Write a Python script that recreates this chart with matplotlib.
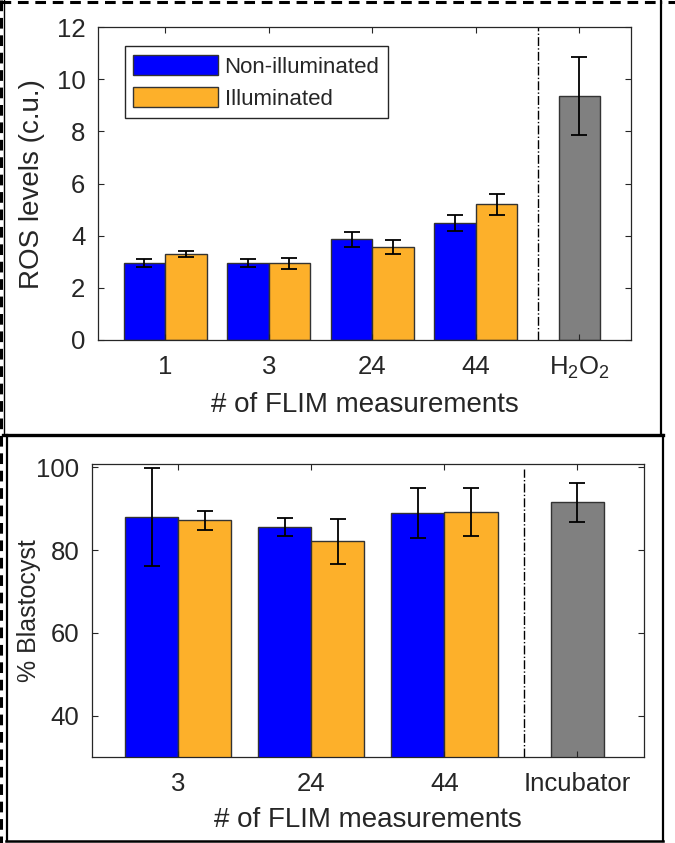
import matplotlib
matplotlib.use("Agg")
import matplotlib.pyplot as plt
import numpy as np

plt.rcParams["font.family"] = ["Liberation Sans", "DejaVu Sans"]
plt.rcParams["text.color"] = "#262626"
plt.rcParams["axes.labelcolor"] = "#262626"

BLUE, ORANGE, GRAY = "#0000FF", "#FDB02A", "#808080"

# ---- data: ROS levels ----
ros_cats = ["1", "3", "24", "44"]
ros_non = [2.95, 2.95, 3.87, 4.50]
ros_non_err = [0.14, 0.14, 0.29, 0.31]
ros_ill = [3.30, 2.94, 3.56, 5.20]
ros_ill_err = [0.13, 0.20, 0.27, 0.42]
h2o2_val, h2o2_err = 9.37, 1.50

# ---- data: % blastocyst ----
bl_cats = ["3", "24", "44"]
bl_non = [88.0, 85.6, 89.0]
bl_non_err = [11.9, 2.1, 6.1]
bl_ill = [87.2, 82.1, 89.2]
bl_ill_err = [2.3, 5.5, 5.8]
inc_val, inc_err = 91.6, 4.7

W = 0.4
EK = dict(elinewidth=1.3, capthick=1.3, ecolor="black")
BAR = dict(edgecolor="#333333", linewidth=1)

fig = plt.figure(figsize=(6.75, 8.43), dpi=100)


def style(ax):
    ax.tick_params(direction="in", top=True, right=True, length=4, width=0.8,
                   colors="#262626", labelsize=18.5)
    ax.tick_params(axis="x", pad=11)
    ax.tick_params(axis="y", pad=9)
    for s in ax.spines.values():
        s.set_color("#262626"); s.set_linewidth(0.9)


# ---- top panel ----
ax1 = fig.add_axes([0.145, 0.5967, 0.790, 0.371])
x = np.arange(1, len(ros_cats) + 1)
ax1.bar(x - W / 2, ros_non, W, yerr=ros_non_err, capsize=6, color=BLUE,
        error_kw=EK, label="Non-illuminated", **BAR)
ax1.bar(x + W / 2, ros_ill, W, yerr=ros_ill_err, capsize=6, color=ORANGE,
        error_kw=EK, label="Illuminated", **BAR)
xc = len(ros_cats) + 1
ax1.bar([xc], [h2o2_val], W, yerr=[h2o2_err], capsize=6, color=GRAY, error_kw=EK, **BAR)
ax1.axvline(len(ros_cats) + 0.6, color="black", ls="-.", lw=1)
ax1.set_xlim(0.35, xc + 0.5); ax1.set_ylim(0, 12)
ax1.set_yticks([0, 2, 4, 6, 8, 10, 12])
ax1.set_xticks(list(x) + [xc])
ax1.set_xticklabels(ros_cats + [r"$\mathregular{H_2O_2}$"])
ax1.set_ylabel("ROS levels (c.u.)", fontsize=20)
ax1.set_xlabel("# of FLIM measurements", fontsize=20)
ax1.yaxis.set_label_coords(-0.099, 0.5)
ax1.xaxis.set_label_coords(0.5, -0.165)
style(ax1)
leg = ax1.legend(loc="upper left", bbox_to_anchor=(0.05, 0.94), borderaxespad=0,
                 fontsize=16, handlelength=3.8, handleheight=1.05, labelspacing=0.4,
                 handletextpad=0.3, borderpad=0.4, fancybox=False, framealpha=1)
leg.get_frame().set_edgecolor("#262626"); leg.get_frame().set_linewidth(1)

# ---- bottom panel ----
ax2 = fig.add_axes([0.1359, 0.102, 0.818, 0.347])
x = np.arange(1, len(bl_cats) + 1)
ax2.bar(x - W / 2, bl_non, W, yerr=bl_non_err, capsize=6, color=BLUE, error_kw=EK, **BAR)
ax2.bar(x + W / 2, bl_ill, W, yerr=bl_ill_err, capsize=6, color=ORANGE, error_kw=EK, **BAR)
xc = len(bl_cats) + 1
ax2.bar([xc], [inc_val], W, yerr=[inc_err], capsize=6, color=GRAY, error_kw=EK, **BAR)
ax2.axvline(len(bl_cats) + 0.6, ymax=0.985, color="black", ls="-.", lw=1)
ax2.set_xlim(0.35, xc + 0.5); ax2.set_ylim(30, 100.7)
ax2.set_yticks([40, 60, 80, 100])
ax2.set_xticks(list(x) + [xc])
ax2.set_xticklabels(bl_cats + ["Incubator"])
ax2.set_ylabel("% Blastocyst", fontsize=18)
ax2.set_xlabel("# of FLIM measurements", fontsize=20)
ax2.yaxis.set_label_coords(-0.091, 0.5)
ax2.xaxis.set_label_coords(0.5, -0.17)
style(ax2)

# ---- panel frames (figure decoration, pixel coords) ----
ov = fig.add_axes([0, 0, 1, 1], zorder=5)
ov.set_xlim(0, 675); ov.set_ylim(843, 0); ov.axis("off")
dash = dict(color="black", lw=2.2, ls=(0, (3.5, 2.2)), clip_on=False)
solid = dict(color="black", clip_on=False)
ov.plot([0, 662], [2, 2], **dash)
ov.plot([1.2, 1.2], [0, 843], **dash)
ov.plot([668, 675], [2, 2], **dash)
ov.plot([4, 4], [0, 435], lw=1, **solid)
ov.plot([661, 661], [0, 435], lw=1.6, **solid)
ov.plot([3, 663], [435, 435], lw=2.4, **solid)
ov.plot([6.5, 6.5], [435, 841], lw=1.6, **solid)
ov.plot([663, 663], [435, 841], lw=1.6, **solid)
ov.plot([6, 663], [840.5, 840.5], lw=1.8, **solid)

fig.savefig("out.png", dpi=100)
